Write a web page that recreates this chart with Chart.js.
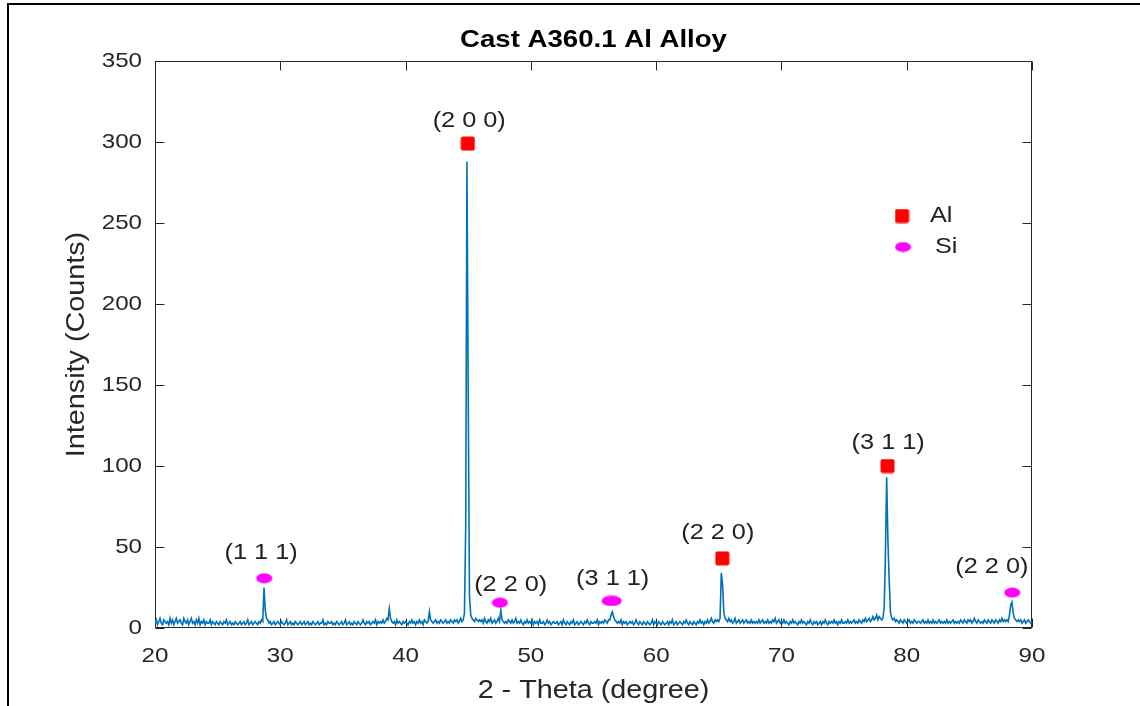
<!DOCTYPE html>
<html><head><meta charset="utf-8">
<script src="https://cdn.jsdelivr.net/npm/chart.js@4"></script>
<style>html,body{margin:0;padding:0;background:#fff;}canvas{display:block;}</style>
</head><body>
<canvas id="c" width="1140" height="706"></canvas>
<script>
// ---- data ----
const chartTitle = 'Cast A360.1 Al Alloy';
const xAxisTitle = '2 - Theta (degree)';
const yAxisTitle = 'Intensity (Counts)';
const thetaStart = 20;     // first sample, degrees
const thetaStep = 0.1;     // sampling step, degrees
const intensity = [
/*20*/ 3,5,2,4,6,3,2,5,4,3,
/*21*/ 4,2,6,3,5,2,4,6,3,4,
/*22*/ 5,3,2,6,4,3,5,2,4,6,
/*23*/ 3,4,2,5,3,6,2,4,3,5,
/*24*/ 2,4,3,3,5,2,4,3,2,4,
/*25*/ 3,2,4,3,2,4,3,5,2,3,
/*26*/ 4,2,3,2,4,3,2,3,4,2,
/*27*/ 3,4,2,3,5,2,3,4,2,3,
/*28*/ 4,3,2,4,3,5,4,25,11,6,
/*29*/ 5,3,4,2,3,4,2,3,4,3,
/*30*/ 2,4,3,2,3,5,2,3,4,2,
/*31*/ 3,2,4,3,2,3,4,2,3,4,
/*32*/ 2,3,4,2,3,2,4,3,2,3,
/*33*/ 4,2,3,3,5,2,3,2,4,3,
/*34*/ 3,4,2,3,2,4,3,2,3,4,
/*35*/ 2,3,5,2,3,4,2,3,2,4,
/*36*/ 3,2,4,3,2,3,5,3,2,4,
/*37*/ 3,4,2,3,4,3,5,2,4,3,
/*38*/ 4,3,5,3,4,6,5,12,6,4,
/*39*/ 3,4,2,5,3,4,3,2,4,3,
/*40*/ 4,3,2,4,3,5,3,4,2,4,
/*41*/ 3,5,3,4,2,5,4,3,4,10,
/*42*/ 5,4,3,4,5,3,4,3,5,4,
/*43*/ 3,4,5,3,4,3,5,4,3,5,
/*44*/ 4,5,3,4,6,4,5,9,62,288,
/*45*/ 145,20,8,6,5,4,6,5,4,5,
/*46*/ 4,5,3,6,4,3,5,4,6,3,
/*47*/ 4,5,3,4,6,4,11,5,4,3,
/*48*/ 4,3,5,4,3,5,3,4,6,3,
/*49*/ 4,3,5,3,2,4,3,5,3,4,
/*50*/ 3,5,2,4,3,4,2,5,3,3,
/*51*/ 4,2,3,5,3,4,2,3,4,3,
/*52*/ 3,4,2,3,4,2,5,3,2,4,
/*53*/ 3,2,4,3,5,2,3,4,2,3,
/*54*/ 4,3,2,4,3,5,3,2,4,3,
/*55*/ 3,4,3,5,2,4,3,4,3,5,
/*56*/ 4,3,5,5,8,10,7,5,4,3,
/*57*/ 4,3,5,2,4,3,4,2,3,4,
/*58*/ 3,4,2,3,5,3,2,4,3,2,
/*59*/ 4,3,2,4,3,2,3,5,2,4,
/*60*/ 3,2,4,3,2,4,3,2,3,4,
/*61*/ 2,4,3,5,2,3,4,2,3,4,
/*62*/ 3,2,4,3,5,3,2,4,3,2,
/*63*/ 4,3,2,4,3,5,3,4,2,4,
/*64*/ 3,5,3,4,6,4,3,5,4,5,
/*65*/ 4,6,34,27,10,6,5,4,6,4,
/*66*/ 5,3,4,6,3,4,5,3,4,5,
/*67*/ 3,4,5,3,4,3,5,3,4,3,
/*68*/ 4,3,5,3,4,5,3,4,3,5,
/*69*/ 3,4,3,5,4,6,3,4,5,3,
/*70*/ 4,3,5,3,4,3,2,4,3,5,
/*71*/ 3,4,3,2,4,3,5,3,4,3,
/*72*/ 2,4,3,5,3,2,4,3,4,2,
/*73*/ 3,4,2,4,3,5,3,2,4,3,
/*74*/ 4,3,5,3,4,2,4,3,5,3,
/*75*/ 3,4,3,5,3,4,3,4,5,3,
/*76*/ 4,3,5,4,3,5,4,6,4,5,
/*77*/ 6,4,5,7,5,6,8,5,7,6,
/*78*/ 5,6,12,45,93,54,30,10,6,5,
/*79*/ 6,4,5,4,3,5,4,3,5,4,
/*80*/ 3,4,5,3,4,3,5,4,3,4,
/*81*/ 4,3,4,5,3,4,3,5,3,4,
/*82*/ 3,5,3,4,3,4,5,3,4,3,
/*83*/ 4,3,5,3,4,3,4,5,3,4,
/*84*/ 3,4,3,5,4,3,5,4,3,5,
/*85*/ 4,5,3,4,6,4,3,5,4,3,
/*86*/ 4,3,5,4,3,5,4,3,5,4,
/*87*/ 3,5,4,3,5,4,6,4,5,4,
/*88*/ 5,4,8,14,16,9,6,5,4,5,
/*89*/ 4,5,3,4,5,3,4,5,4,3,
/*90*/ 4
];
const xTicks = [20,30,40,50,60,70,80,90];
const yTicks = [0,50,100,150,200,250,300,350];
const alMarkX = [44.97, 65.28, 78.47];
const alMarkY = [299, 43, 100];
const siMarkX = [28.72, 47.53, 56.29, 56.61, 88.42];
const siMarkY = [30.7, 15.6, 16.7, 16.7, 21.8];
const peakLabels = ['(1 1 1)','(2 0 0)','(2 2 0)','(3 1 1)','(2 2 0)','(3 1 1)','(2 2 0)'];
const peakLabelX = [28.47, 45.08, 48.39, 56.53, 64.92, 78.52, 86.8];
const peakLabelY = [46.3, 313, 26.5, 30, 58.4, 114, 37.8];
const legendLabels = ['Al','Si'];

// ---- styling ----
const FONT = "'Liberation Sans', Arial, Helvetica, sans-serif";
const TEXT_STRETCH = 1.15;
const AXIS_COLOR = '#262626';

function makeSquare(){
  const c = document.createElement('canvas'); c.width = 15; c.height = 15;
  const g = c.getContext('2d'); g.fillStyle = '#ff0000';
  g.beginPath();
  if (g.roundRect) g.roundRect(0.5,0.5,14,14,2); else g.rect(0.5,0.5,14,14);
  g.fill(); return c;
}
function makeEllipse(){
  const c = document.createElement('canvas'); c.width = 17; c.height = 11;
  const g = c.getContext('2d'); g.fillStyle = '#ff00ff';
  g.beginPath(); g.ellipse(8.5,5.5,8,5,0,0,Math.PI*2); g.fill(); return c;
}
const squareImg = makeSquare();
const ellipseImg = makeEllipse();

const spectrum = intensity.map((v,i)=>({x: +(thetaStart + i*thetaStep).toFixed(3), y: v}));
const alPts = alMarkX.map((x,i)=>({x, y: alMarkY[i]}));
const siPts = siMarkX.map((x,i)=>({x, y: siMarkY[i]}));

const stretchText = {
  id: 'stretchText',
  beforeInit(chart){
    const ctx = chart.ctx;
    const orig = CanvasRenderingContext2D.prototype.fillText;
    ctx.fillText = function(text, x, y){
      this.save(); this.translate(x, y); this.scale(TEXT_STRETCH, 1);
      orig.call(this, text, 0, 0); this.restore();
    };
  }
};

const background = {
  id: 'background',
  beforeDraw(chart){
    const ctx = chart.ctx;
    ctx.save();
    ctx.fillStyle = '#fff'; ctx.fillRect(0,0,chart.width,chart.height);
    ctx.strokeStyle = '#000'; ctx.lineWidth = 2;
    ctx.beginPath(); ctx.moveTo(8, 706); ctx.lineTo(8, 4); ctx.lineTo(1140, 4); ctx.stroke();
    ctx.restore();
  }
};

const frame = {
  id: 'frame',
  beforeDatasetsDraw(chart){
    const {ctx, chartArea: a, scales} = chart;
    const L = Math.round(a.left)+0.5, R = Math.round(a.right)-0.5, T = Math.round(a.top)+0.5, B = Math.round(a.bottom)-0.5;
    ctx.save();
    ctx.strokeStyle = AXIS_COLOR; ctx.lineWidth = 1;
    ctx.strokeRect(L, T, R-L, B-T);
    const tl = 9;
    ctx.beginPath();
    scales.x.ticks.forEach(t=>{
      const p = Math.round(scales.x.getPixelForValue(t.value))+0.5;
      ctx.moveTo(p, B); ctx.lineTo(p, B-tl);
      ctx.moveTo(p, T); ctx.lineTo(p, T+tl);
    });
    scales.y.ticks.forEach(t=>{
      const p = Math.round(scales.y.getPixelForValue(t.value))+0.5;
      ctx.moveTo(L, p); ctx.lineTo(L+tl, p);
      ctx.moveTo(R, p); ctx.lineTo(R-tl, p);
    });
    ctx.stroke();
    ctx.restore();
  }
};

const annotations = {
  id: 'annotations',
  afterDatasetsDraw(chart){
    const {ctx, chartArea: a, scales} = chart;
    ctx.save();
    // title
    ctx.fillStyle = '#000';
    ctx.font = `bold 24px ${FONT}`;
    ctx.textAlign = 'center'; ctx.textBaseline = 'middle';
    ctx.fillText(chartTitle, (a.left + a.right)/2, 40);
    // peak labels
    ctx.fillStyle = '#222';
    ctx.font = `22px ${FONT}`;
    peakLabels.forEach((t,i)=>{
      ctx.fillText(t, scales.x.getPixelForValue(peakLabelX[i]), scales.y.getPixelForValue(peakLabelY[i]));
    });
    // legend
    const lx = a.left + 747, ly = a.top + 155;
    ctx.drawImage(squareImg, lx - 7.5, ly - 7.5);
    ctx.drawImage(ellipseImg, lx + 1 - 8.5, ly + 31 - 5.5);
    ctx.textAlign = 'left';
    ctx.fillText(legendLabels[0], lx + 28, ly);
    ctx.fillText(legendLabels[1], lx + 33, ly + 31);
    ctx.restore();
  }
};

new Chart(document.getElementById('c'), {
  type: 'scatter',
  data: {
    datasets: [
      {label: 'Al', data: alPts, pointStyle: squareImg, pointRadius: 7, showLine: false, order: 0},
      {label: 'Si', data: siPts, pointStyle: ellipseImg, pointRadius: 7, showLine: false, order: 0},
      {label: 'XRD', data: spectrum, showLine: true, borderColor: '#0072BD', borderWidth: 1.6,
       pointRadius: 0, tension: 0, order: 2}
    ]
  },
  options: {
    responsive: false, animation: false, devicePixelRatio: 1,
    layout: {padding: {left: 0, right: 108, top: 61, bottom: 0}},
    plugins: {legend: {display: false}, tooltip: {enabled: false}, title: {display: false}},
    scales: {
      x: {
        type: 'linear', min: 20, max: 90,
        afterBuildTicks: s => { s.ticks = xTicks.map(v=>({value: v})); },
        afterFit: s => { s.height = 78; },
        grid: {display: false, drawTicks: false}, border: {display: false},
        ticks: {autoSkip: false, maxRotation: 0, padding: 16, color: AXIS_COLOR, font: {family: FONT, size: 21}},
        title: {display: true, text: xAxisTitle, color: AXIS_COLOR, font: {family: FONT, size: 25}, padding: {top: 0, bottom: 0}}
      },
      y: {
        type: 'linear', min: 0, max: 350,
        afterBuildTicks: s => { s.ticks = yTicks.map(v=>({value: v})); },
        afterFit: s => { s.width = 155; },
        grid: {display: false, drawTicks: false}, border: {display: false},
        ticks: {autoSkip: false, padding: 13, color: AXIS_COLOR, font: {family: FONT, size: 21}},
        title: {display: true, text: yAxisTitle, color: AXIS_COLOR, font: {family: FONT, size: 25}, padding: {top: 62, bottom: 0}}
      }
    }
  },
  plugins: [stretchText, background, frame, annotations]
});
</script>
</body></html>
